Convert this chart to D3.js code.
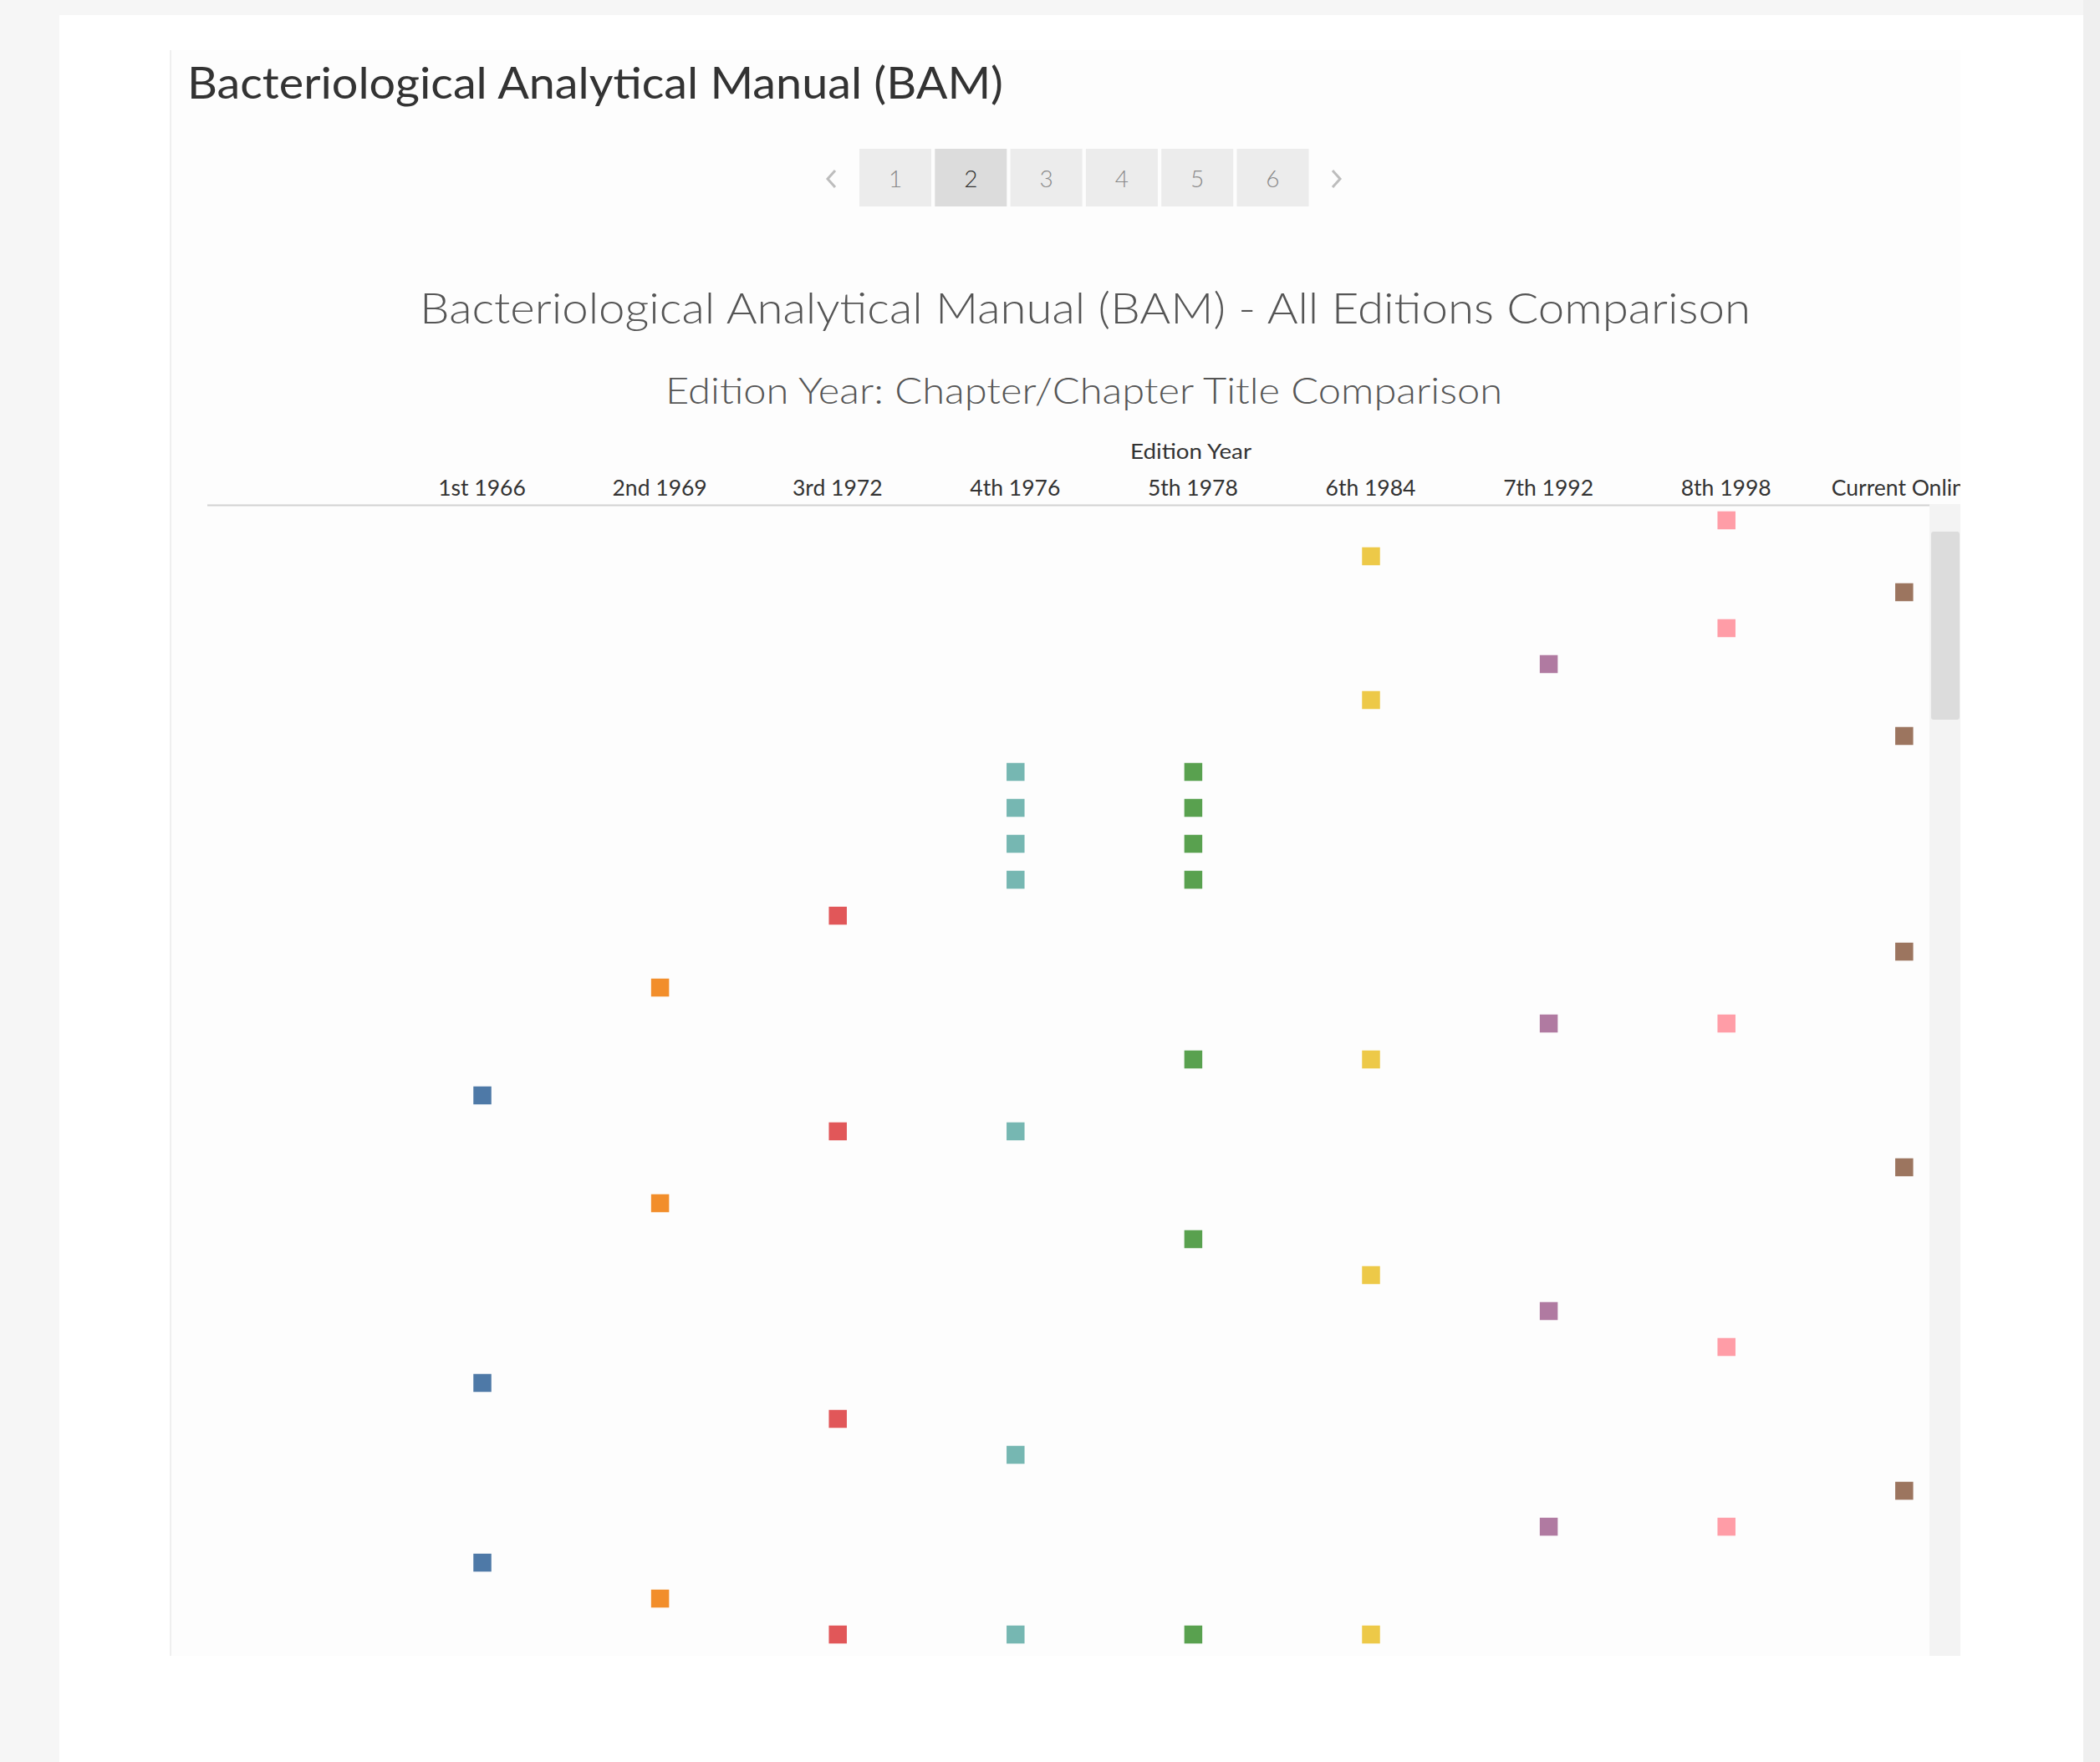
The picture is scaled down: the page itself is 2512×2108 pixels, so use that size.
<!DOCTYPE html>
<html>
<head>
<meta charset="utf-8">
<script src="https://cdn.jsdelivr.net/npm/d3@7"></script>
<style>
  html, body { margin: 0; padding: 0; background: #f5f5f5; }
  svg { display: block; }
  text { font-family: Lato, "Open Sans", sans-serif; }
</style>
</head>
<body>
<svg id="chart" width="2512" height="2108"></svg>
<script>
// ---------------- DATA ----------------
const dashboardTitle = "Bacteriological Analytical Manual (BAM)";
const chartTitle = "Bacteriological Analytical Manual (BAM) - All Editions Comparison";
const chartSubtitle = "Edition Year: Chapter/Chapter Title Comparison";
const columnHeader = "Edition Year";
const pages = ["1", "2", "3", "4", "5", "6"];
const selectedPage = "2";

const editions = ["1st 1966", "2nd 1969", "3rd 1972", "4th 1976", "5th 1978",
                  "6th 1984", "7th 1992", "8th 1998", "Current Online"];
// visible chapter rows (row labels hidden in the view)
const chapterRows = [1, 2, 3, 4, 5, 6, 7, 8, 9, 10, 11, 12, 13, 14, 15, 16,
                     17, 18, 19, 20, 21, 22, 23, 24, 25, 26, 27, 28, 29, 30, 31, 32];
// rows in which each edition has a chapter
const rows1st1966 = [17, 25, 30];
const rows2nd1969 = [14, 20, 31];
const rows3rd1972 = [12, 18, 26, 32];
const rows4th1976 = [8, 9, 10, 11, 18, 27, 32];
const rows5th1978 = [8, 9, 10, 11, 16, 21, 32];
const rows6th1984 = [2, 6, 16, 22, 32];
const rows7th1992 = [5, 15, 23, 29];
const rows8th1998 = [1, 4, 15, 24, 29];
const rowsCurrent = [3, 7, 13, 19, 28];
const editionColors = ["#4e79a7", "#f28e2b", "#e15759", "#76b7b2", "#59a14f",
                       "#edc948", "#b07aa1", "#ff9da7", "#9c755f"];

const rowsByEdition = [rows1st1966, rows2nd1969, rows3rd1972, rows4th1976, rows5th1978,
                       rows6th1984, rows7th1992, rows8th1998, rowsCurrent];
const marks = [];
editions.forEach((e, i) => rowsByEdition[i].forEach(r => marks.push({edition: e, row: r})));

// ---------------- DRAW ----------------
const svg = d3.select("#chart");

// page background & panels
svg.append("rect").attr("x", 0).attr("y", 0).attr("width", 2512).attr("height", 2108).attr("fill", "#f6f6f6");
svg.append("rect").attr("x", 2492).attr("y", 0).attr("width", 20).attr("height", 2108).attr("fill", "#efefef");
svg.append("rect").attr("x", 71).attr("y", 18).attr("width", 2421).attr("height", 2090).attr("fill", "#ffffff");
// dashboard zone
svg.append("rect").attr("x", 204).attr("y", 60).attr("width", 2141).attr("height", 1921).attr("fill", "#fdfdfd");
svg.append("line").attr("x1", 204).attr("x2", 204).attr("y1", 60).attr("y2", 1981)
  .attr("stroke", "#efefef").attr("stroke-width", 2);

// dashboard title
svg.append("text").attr("x", 224).attr("y", 118)
  .attr("font-size", 52).attr("fill", "#333")
  .attr("textLength", 976).attr("lengthAdjust", "spacingAndGlyphs")
  .text(dashboardTitle);

// pagination
const pageX = d3.scaleBand().domain(pages).range([1028, 1565.5]).paddingInner(0.0476);
const pg = svg.append("g");
pg.selectAll("rect").data(pages).join("rect")
  .attr("x", d => pageX(d)).attr("y", 178)
  .attr("width", pageX.bandwidth()).attr("height", 69)
  .attr("fill", d => d === selectedPage ? "#dcdcdc" : "#ececec");
pg.selectAll("text").data(pages).join("text")
  .attr("x", d => pageX(d) + pageX.bandwidth() / 2).attr("y", 224)
  .attr("text-anchor", "middle").attr("font-size", 28).attr("font-weight", 300)
  .attr("fill", d => d === selectedPage ? "#333" : "#888")
  .text(d => d);
pg.append("polyline").attr("points", "999,204 990,214 999,224")
  .attr("fill", "none").attr("stroke", "#bdbdbd").attr("stroke-width", 3);
pg.append("polyline").attr("points", "1594,204 1603,214 1594,224")
  .attr("fill", "none").attr("stroke", "#bdbdbd").attr("stroke-width", 3);

// chart titles
svg.append("text").attr("x", 502).attr("y", 387)
  .attr("font-size", 52).attr("font-weight", 300).attr("fill", "#555")
  .attr("textLength", 1592).attr("lengthAdjust", "spacingAndGlyphs")
  .text(chartTitle);
svg.append("text").attr("x", 796).attr("y", 483)
  .attr("font-size", 43).attr("font-weight", 300).attr("fill", "#555")
  .attr("textLength", 1001).attr("lengthAdjust", "spacingAndGlyphs")
  .text(chartSubtitle);
svg.append("text").attr("x", 1352).attr("y", 549)
  .attr("font-size", 25).attr("fill", "#333")
  .attr("textLength", 145).attr("lengthAdjust", "spacingAndGlyphs")
  .text(columnHeader);

// scales
const x = d3.scalePoint().domain(editions).range([577, 2277.8]);
const y = d3.scalePoint().domain(chapterRows).range([622.5, 1955.5]);
const color = d3.scaleOrdinal().domain(editions).range(editionColors);

// clips
svg.append("clipPath").attr("id", "hdrClip")
  .append("rect").attr("x", 248).attr("y", 540).attr("width", 2097).attr("height", 70);
svg.append("clipPath").attr("id", "plotClip")
  .append("rect").attr("x", 248).attr("y", 605).attr("width", 2060).attr("height", 1376);

// column axis (top)
const axisG = svg.append("g").attr("clip-path", "url(#hdrClip)")
  .append("g").attr("transform", "translate(-1,593)")
  .call(d3.axisTop(x).tickSize(0).tickPadding(0));
axisG.select(".domain").remove();
axisG.selectAll("text")
  .attr("font-family", "Lato, 'Open Sans', sans-serif")
  .attr("font-size", 26.5).attr("fill", "#333").attr("dy", 0);

// axis separator line
svg.append("line").attr("x1", 248).attr("x2", 2308).attr("y1", 604.5).attr("y2", 604.5)
  .attr("stroke", "#d2d2d2").attr("stroke-width", 2);

// scrollbar
svg.append("rect").attr("x", 2308).attr("y", 603).attr("width", 37).attr("height", 1378).attr("fill", "#f3f3f3");
svg.append("rect").attr("x", 2310).attr("y", 636).attr("width", 34).attr("height", 225)
  .attr("rx", 3).attr("fill", "#dcdcdc");

// marks
const sq = 21.5;
svg.append("g").attr("clip-path", "url(#plotClip)")
  .selectAll("rect").data(marks).join("rect")
  .attr("x", d => x(d.edition) - sq / 2)
  .attr("y", d => y(d.row) - sq / 2)
  .attr("width", sq).attr("height", sq)
  .attr("fill", d => color(d.edition));
</script>
</body>
</html>
